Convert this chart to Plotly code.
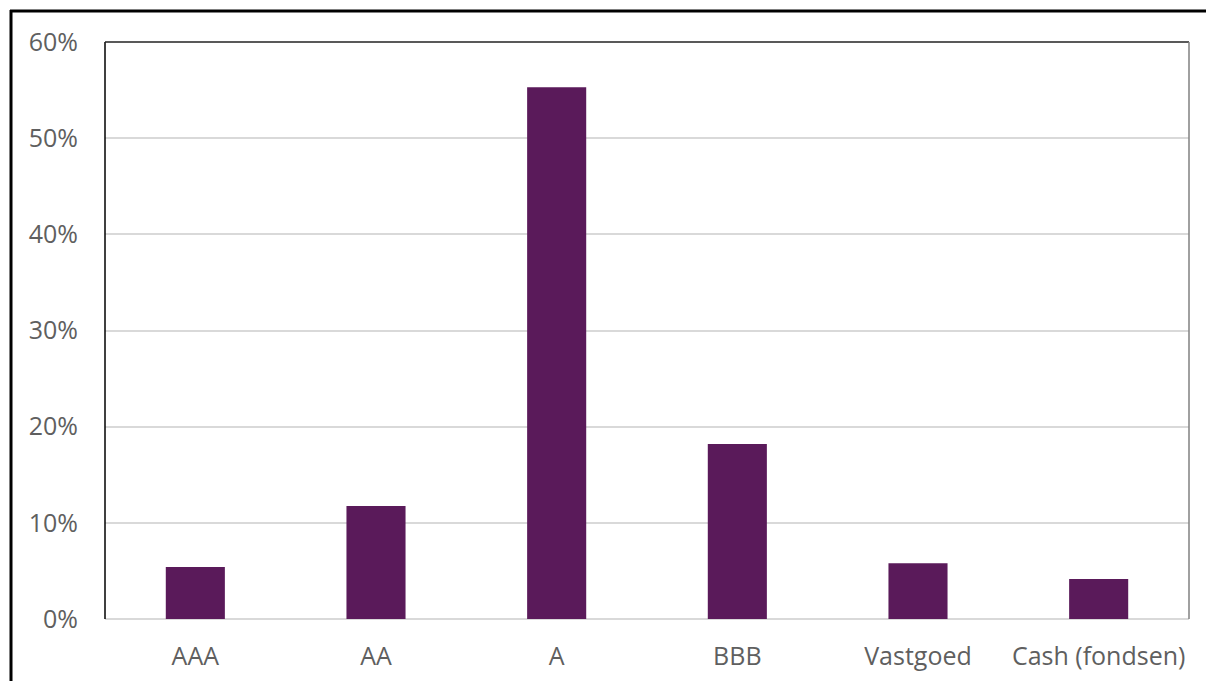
import plotly.graph_objects as go

categories = ["AAA", "AA", "A", "BBB", "Vastgoed", "Cash (fondsen)"]
values = [0.054, 0.1175, 0.553, 0.182, 0.058, 0.0415]
tick_vals = [0, 0.1, 0.2, 0.3, 0.4, 0.5, 0.6]
tick_text = ["0%", "10%", "20%", "30%", "40%", "50%", "60%"]

W, H = 1206, 681
L, R, T, B = 105, 1189, 42, 619

fig = go.Figure(go.Bar(x=categories, y=values, marker=dict(color="#5A1A5A", line=dict(width=0)),
                       hoverinfo="x+y"))

font = dict(family="Open Sans, Segoe UI, sans-serif", size=25, color="#5F5F5F")

fig.update_layout(
    width=W, height=H,
    margin=dict(l=L, r=W - R, t=T, b=H - B),
    paper_bgcolor="white", plot_bgcolor="white",
    bargap=0.673,
    showlegend=False,
    font=font,
    xaxis=dict(showgrid=False, showline=False, ticks="", tickfont=font, ticklabelstandoff=20,
               automargin=False),
    yaxis=dict(range=[0, 0.6], tickvals=tick_vals, ticktext=tick_text, showgrid=True,
               gridcolor="#D9D9D9", gridwidth=1.5, zeroline=True, zerolinecolor="#D9D9D9",
               zerolinewidth=1.5, showline=False, ticks="", tickfont=font, ticklabelstandoff=26,
               automargin=False),
)

def px_x(p):
    return (p - L) / (R - L)

def px_y(p):
    return (B - p) / (B - T)

shapes = []
# plot area borders
shapes.append(dict(type="line", xref="paper", yref="paper", x0=0, x1=0, y0=0, y1=1,
                   line=dict(color="#000000", width=1.5)))
shapes.append(dict(type="line", xref="paper", yref="paper", x0=0, x1=1, y0=1, y1=1,
                   line=dict(color="#222222", width=1.5)))
shapes.append(dict(type="line", xref="paper", yref="paper", x0=1, x1=1, y0=0, y1=1,
                   line=dict(color="#808080", width=1.5)))
# outer frame
shapes.append(dict(type="line", xref="paper", yref="paper", x0=px_x(11), x1=px_x(11),
                   y0=px_y(700), y1=px_y(10), line=dict(color="#000000", width=3)))
shapes.append(dict(type="line", xref="paper", yref="paper", x0=px_x(10), x1=px_x(1220),
                   y0=px_y(11), y1=px_y(11), line=dict(color="#000000", width=3)))
fig.update_layout(shapes=shapes)

fig.write_html("out.html")
